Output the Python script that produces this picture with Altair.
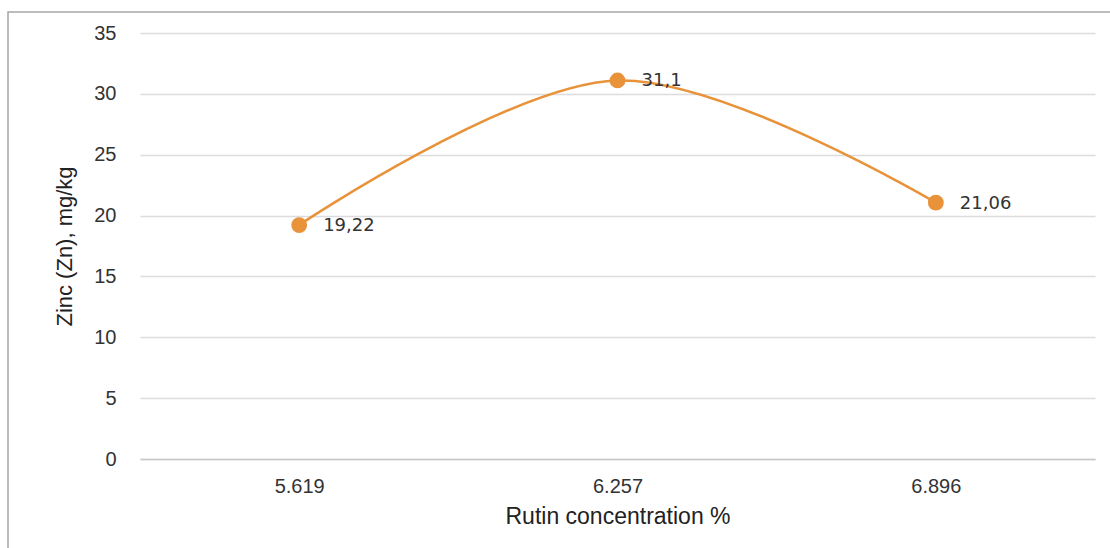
import altair as alt
import pandas as pd

# Zinc content measured at three rutin concentrations
concentration = ["5.619", "6.257", "6.896"]
zinc = [19.22, 31.1, 21.06]
labels = ["19,22", "31,1", "21,06"]

df = pd.DataFrame({"conc": concentration, "zinc": zinc, "label": labels})

ORANGE = "#E8923A"

x_enc = alt.X(
    "conc:N",
    sort=concentration,
    scale=alt.Scale(paddingOuter=0.5, paddingInner=0),
    axis=alt.Axis(
        title="Rutin concentration %",
        labelAngle=0,
        labelFontSize=20,
        labelColor="#333333",
        labelFont="Liberation Sans",
        labelPadding=17,
        ticks=False,
        domain=True,
        domainColor="#c8c8c8",
        domainWidth=1.5,
        grid=False,
        titleFont="Liberation Sans",
        titleFontSize=23,
        titleFontWeight="normal",
        titleColor="#222222",
        titlePadding=9,
    ),
)

y_enc = alt.Y(
    "zinc:Q",
    scale=alt.Scale(domain=[0, 35], nice=False),
    axis=alt.Axis(
        title="Zinc (Zn), mg/kg",
        values=[0, 5, 10, 15, 20, 25, 30, 35],
        labelFontSize=20,
        labelColor="#333333",
        labelFont="Liberation Sans",
        labelPadding=24,
        ticks=False,
        domain=False,
        grid=True,
        gridColor="#dcdcdc",
        gridWidth=1.5,
        titleFont="Liberation Sans",
        titleFontSize=22,
        titleFontWeight="normal",
        titleColor="#222222",
        titlePadding=17,
    ),
)

base = alt.Chart(df).encode(x=x_enc, y=y_enc)

line = base.mark_line(color=ORANGE, strokeWidth=2.5, interpolate="catmull-rom")
points = base.mark_circle(color=ORANGE, size=250, opacity=1)
text = base.mark_text(
    align="left", baseline="middle", dx=24, dy=1,
    fontSize=18, font="DejaVu Sans", color="#333333"
).encode(text="label:N")

# Outer frame around the chart
frame_df = pd.DataFrame({"k": [0]})
frame = alt.Chart(frame_df).mark_rect(
    fill=None, stroke="#a6a6a6", strokeWidth=1.5, clip=False
).encode(
    x=alt.value(-132), x2=alt.value(990),
    y=alt.value(-21), y2=alt.value(600),
)

chart = alt.layer(frame, line, points, text).properties(
    width=955,
    height=426,
    padding={"left": 140, "top": 33, "right": 15, "bottom": 89},
    autosize=alt.AutoSizeParams(type="none"),
    background="white",
).configure_view(stroke=None)

chart.save("out.html", embed_options={"renderer": "svg", "actions": False})
